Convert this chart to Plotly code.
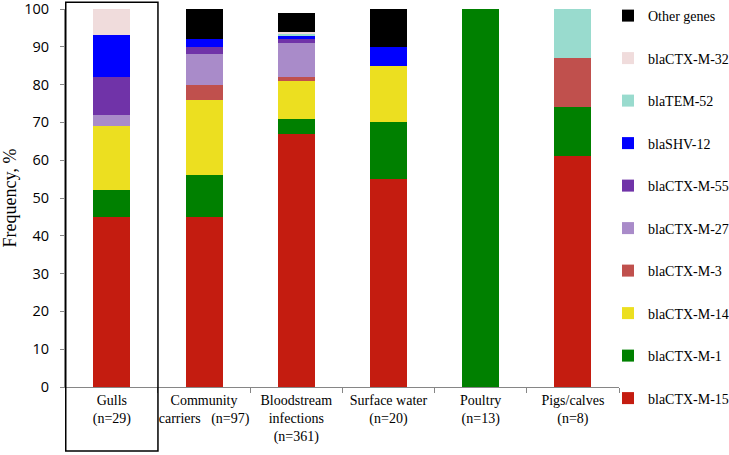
import plotly.graph_objects as go

categories = [
    "Gulls<br>(n=29)",
    "Community<br>carriers   (n=97)",
    "Bloodstream<br>infections<br>(n=361)",
    "Surface water<br>(n=20)",
    "Poultry<br>(n=13)",
    "Pigs/calves<br>(n=8)",
]

# values in %, per category (same order as categories)
bla_ctx_m_15 = [45, 45, 67, 55, 0, 61]
bla_ctx_m_1 = [7, 11, 4, 15, 100, 13]
bla_ctx_m_14 = [17, 20, 10, 15, 0, 0]
bla_ctx_m_3 = [0, 4, 1, 0, 0, 13]
bla_ctx_m_27 = [3, 8, 9, 0, 0, 0]
bla_ctx_m_55 = [10, 2, 1, 0, 0, 0]
bla_shv_12 = [11, 2, 1, 5, 0, 0]
bla_tem_52 = [0, 0, 0.5, 0, 0, 13]
bla_ctx_m_32 = [7, 0, 0.5, 0, 0, 0]
other_genes = [0, 8, 5, 10, 0, 0]

series_names = ["blaCTX-M-15", "blaCTX-M-1", "blaCTX-M-14", "blaCTX-M-3", "blaCTX-M-27",
                "blaCTX-M-55", "blaSHV-12", "blaTEM-52", "blaCTX-M-32", "Other genes"]
series_values = [bla_ctx_m_15, bla_ctx_m_1, bla_ctx_m_14, bla_ctx_m_3, bla_ctx_m_27,
                 bla_ctx_m_55, bla_shv_12, bla_tem_52, bla_ctx_m_32, other_genes]
series_colors = ["#C41C10", "#008000", "#ECDF20", "#C0504D", "#A98BC9",
                 "#7033A8", "#0000FF", "#99DBCE", "#F0DCDC", "#000000"]

y_ticks = [0, 10, 20, 30, 40, 50, 60, 70, 80, 90, 100]

fig = go.Figure()
n = len(series_names)
for i, (name, vals, col) in enumerate(zip(series_names, series_values, series_colors)):
    fig.add_trace(go.Bar(
        x=categories, y=vals, name=name, legendgroup=name, legendrank=n - i,
        marker=dict(color=col, line=dict(width=0)),
    ))

fig.update_layout(
    width=729, height=455,
    barmode="stack", bargap=0.6,
    plot_bgcolor="white", paper_bgcolor="white",
    margin=dict(l=65, r=110, t=9, b=68, autoexpand=False),
    showlegend=True,
    legend=dict(
        traceorder="grouped", tracegroupgap=21.3,
        xref="container", yref="container",
        x=0.834, xanchor="left", y=1.007, yanchor="top",
        maxheight=470,
        font=dict(family="Liberation Serif", size=14, color="black"),
        itemwidth=30, bgcolor="rgba(0,0,0,0)",
    ),
    xaxis=dict(
        automargin=False,
        showline=True, linecolor="#868686", linewidth=1,
        ticks="outside", tickson="boundaries", ticklen=5, tickcolor="#868686",
        tickangle=0,
        tickfont=dict(family="Liberation Serif", size=14, color="black"),
        showgrid=False,
    ),
    yaxis=dict(
        automargin=False,
        range=[0, 100], tickvals=y_ticks,
        showline=True, linecolor="#868686", linewidth=1,
        ticks="outside", ticklen=4, tickcolor="#868686",
        ticklabelstandoff=8, ticklabeloverflow="allow",
        tickfont=dict(family="Open Sans", size=14.5, color="black"),
        showgrid=False, zeroline=False,
        title=dict(text="Frequency, %", font=dict(family="Liberation Serif", size=18, color="black"),
                   standoff=13),
    ),
)

# highlight box around the Gulls category
fig.add_shape(type="rect", xref="x", yref="paper", x0=-0.5, x1=0.5, y0=-0.169, y1=1.018,
              line=dict(color="black", width=1.5), fillcolor="rgba(0,0,0,0)", layer="above")

fig.write_html("out.html", config={"displayModeBar": False},
               post_script="document.body.style.margin='0';document.body.style.padding='0';")
